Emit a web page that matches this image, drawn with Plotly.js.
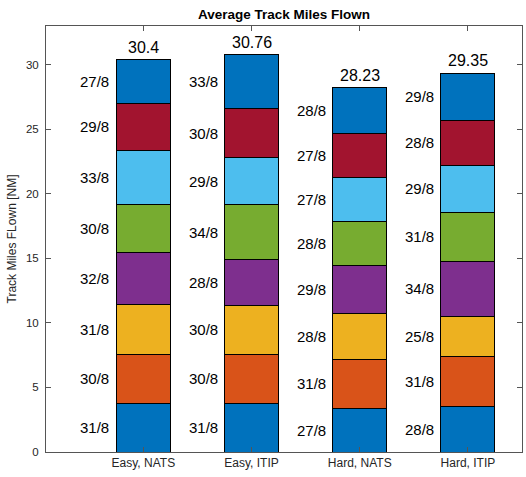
<!DOCTYPE html>
<html><head><meta charset="utf-8">
<script src="https://cdn.plot.ly/plotly-3.0.1.min.js"></script>
<style>html,body{margin:0;padding:0;background:#fff}#chart{width:526px;height:477px}</style>
</head><body><div id="chart"></div>
<script>
var categories = ['Easy, NATS', 'Easy, ITIP', 'Hard, NATS', 'Hard, ITIP'];
var xPos = [1, 2, 3, 4];
// segment values (bottom to top), one array per stack level
var seg1 = [3.77, 3.77, 3.35, 3.50];
var seg2 = [3.81, 3.81, 3.84, 3.90];
var seg3 = [3.87, 3.76, 3.54, 3.12];
var seg4 = [4.04, 3.56, 3.71, 4.23];
var seg5 = [3.71, 4.25, 3.45, 3.83];
var seg6 = [4.18, 3.64, 3.35, 3.62];
var seg7 = [3.61, 3.79, 3.43, 3.50];
var seg8 = [3.40, 4.18, 3.56, 3.65];
// segment labels
var lab1 = ['31/8', '31/8', '27/8', '28/8'];
var lab2 = ['30/8', '30/8', '31/8', '31/8'];
var lab3 = ['31/8', '30/8', '28/8', '25/8'];
var lab4 = ['32/8', '28/8', '29/8', '34/8'];
var lab5 = ['30/8', '34/8', '28/8', '31/8'];
var lab6 = ['33/8', '29/8', '27/8', '29/8'];
var lab7 = ['29/8', '30/8', '27/8', '28/8'];
var lab8 = ['27/8', '33/8', '28/8', '29/8'];
var totals = ['30.4', '30.76', '28.23', '29.35'];
var yTicks = [0, 5, 10, 15, 20, 25, 30];

var segs = [seg1, seg2, seg3, seg4, seg5, seg6, seg7, seg8];
var labs = [lab1, lab2, lab3, lab4, lab5, lab6, lab7, lab8];
var colors = ['#0072BD', '#D95319', '#EDB120', '#7E2F8E', '#77AC30', '#4DBEEE', '#A2142F', '#0072BD'];

var traces = segs.map(function (s, i) {
  return {
    type: 'bar', x: xPos, y: s, width: 0.5,
    marker: {color: colors[i], line: {color: '#000', width: 1}},
    hoverinfo: 'skip', showlegend: false
  };
});

var annotations = [];
var cum = [0, 0, 0, 0];
segs.forEach(function (s, i) {
  s.forEach(function (v, j) {
    annotations.push({
      x: xPos[j] - 0.25, y: cum[j] + v / 2, xref: 'x', yref: 'y',
      text: labs[i][j], showarrow: false, xanchor: 'right', yanchor: 'middle',
      xshift: -5, font: {family: 'Liberation Sans, Arial, sans-serif', size: 15, color: '#000'}
    });
    cum[j] += v;
  });
});
cum.forEach(function (c, j) {
  annotations.push({
    x: xPos[j], y: c, xref: 'x', yref: 'y', text: totals[j], showarrow: false,
    xanchor: 'center', yanchor: 'bottom', yshift: 2,
    font: {family: 'Liberation Sans, Arial, sans-serif', size: 16, color: '#000'}
  });
});

var layout = {
  width: 526, height: 477,
  margin: {l: 46, r: 4, t: 26, b: 25, pad: 0},
  paper_bgcolor: '#fff', plot_bgcolor: '#fff',
  barmode: 'stack',
  font: {family: 'Liberation Sans, Arial, sans-serif', color: '#262626'},
  title: {text: '<b>Average Track Miles Flown</b>', x: 0.5, xref: 'paper', xanchor: 'center', y: 0.97, yref: 'container', yanchor: 'middle',
          font: {size: 13.5, color: '#000'}},
  xaxis: {
    range: [0.1, 4.5], tickvals: xPos, ticktext: categories,
    showline: true, mirror: 'ticks', linecolor: '#555', linewidth: 1,
    ticks: 'inside', ticklen: 5, tickcolor: '#555', showgrid: false, zeroline: false,
    tickfont: {size: 12, color: '#262626'}
  },
  yaxis: {
    range: [0, 33], tickvals: yTicks,
    showline: true, mirror: 'ticks', linecolor: '#555', linewidth: 1,
    ticks: 'inside', ticklen: 5, tickcolor: '#555', showgrid: false, zeroline: false,
    tickfont: {size: 11.5, color: '#262626'}, ticklabelstandoff: 4,
    title: {text: 'Track Miles FLown [NM]', font: {size: 12, color: '#262626'}, standoff: 6}
  },
  annotations: annotations
};
Plotly.newPlot('chart', traces, layout, {displayModeBar: false, staticPlot: true});
</script></body></html>
